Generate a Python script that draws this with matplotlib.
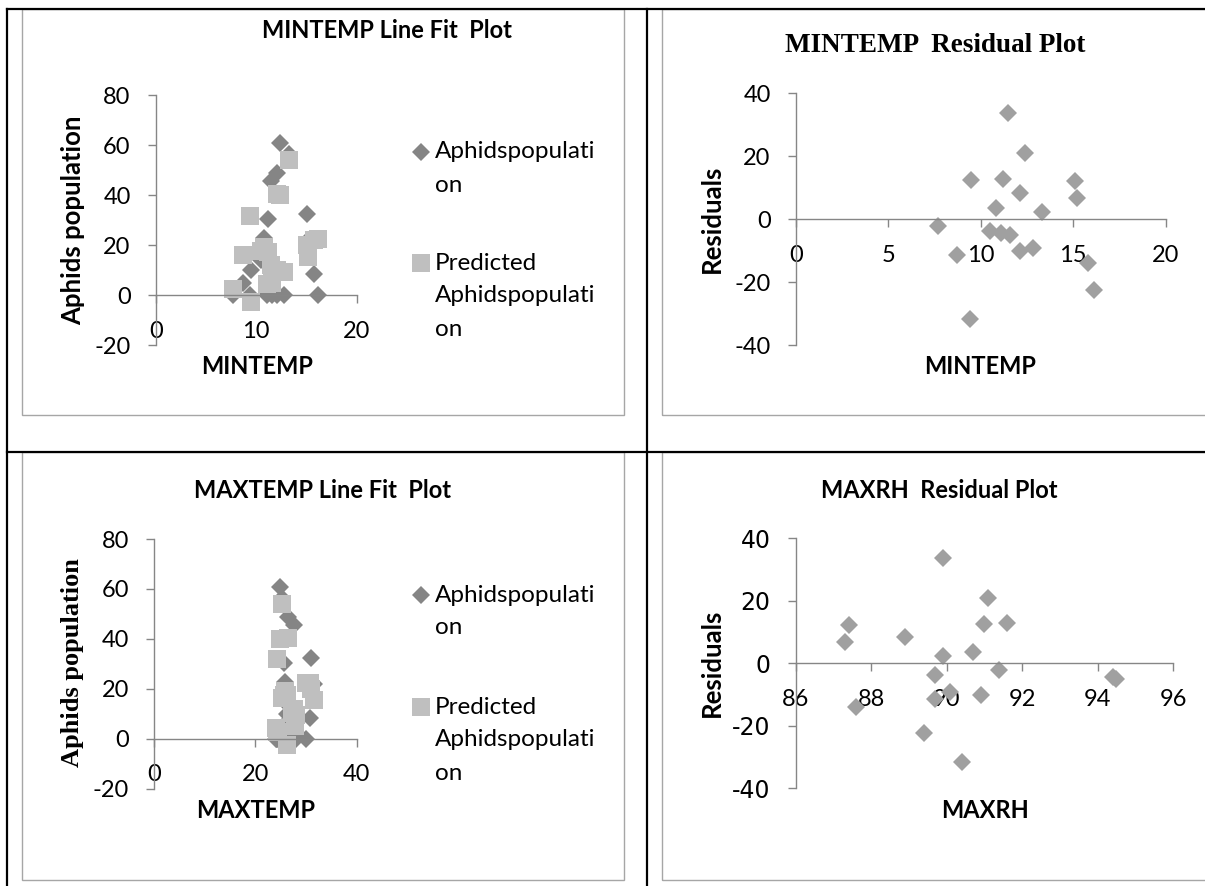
import matplotlib
matplotlib.use("Agg")
import matplotlib.pyplot as plt
from matplotlib.lines import Line2D
from matplotlib.patches import Rectangle

mintemp = [7.7, 8.7, 9.4, 9.5, 10.5, 10.8, 11.1, 11.2, 11.5, 11.6,
           12.1, 12.1, 12.4, 12.8, 13.3, 15.1, 15.2, 15.8, 16.1]
maxtemp = [24.2, 25.2, 24.3, 26.2, 26.2, 25.9, 24.0, 25.6, 27.6, 27.8,
           26.4, 27.2, 24.8, 28.0, 25.3, 30.9, 31.6, 30.8, 30.0]
maxrh = [91.4, 89.7, 90.4, 91.0, 89.7, 90.7, 94.4, 91.6, 89.9, 94.5,
         88.9, 90.9, 91.1, 90.1, 89.9, 87.4, 87.3, 87.6, 89.4]
aphids = [0, 4.7, 0, 10, 14, 22.7, 0, 30.3, 45.6, 0,
          48.7, 0, 60.9, 0, 56.4, 32.3, 22, 8.3, 0]
predicted = [2.5, 16.2, 31.8, -2.7, 17.7, 19.1, 4.3, 17.4, 12.0, 4.9,
             40.3, 10.1, 40.0, 9.3, 54.0, 20.1, 15.3, 22.2, 22.4]
residuals = [-2.2, -11.5, -31.7, 12.6, -3.7, 3.6, -4.3, 12.9, 33.6, -4.9,
             8.4, -10.1, 20.9, -9.3, 2.3, 12.2, 6.7, -13.9, -22.4]

# ── Style ─────────────────────────────────────────────────────────────────────
W, H = 1205, 886
SANS = "Lato"
SERIF = "Liberation Serif"
AXIS = "#868686"
FRAME = "#a6a6a6"
ACTUAL_C = "#858585"
PRED_C = "#bfbfbf"
RESID_C = "#a0a0a0"
TICK_FS = 17
LAB_FS = 17

plt.rcParams["axes.unicode_minus"] = False

fig = plt.figure(figsize=(W / 100, H / 100), dpi=100)


def fx(px):
    return px / W


def fy(py):
    return 1 - py / H


def make_axes(left, top, right, bottom, xlim, ylim, xticks, yticks):
    ax = fig.add_axes([fx(left), fy(bottom), (right - left) / W, (bottom - top) / H])
    ax.set_xlim(xlim)
    ax.set_ylim(ylim)
    ax.set_xticks(xticks)
    ax.set_yticks(yticks)
    ax.spines["top"].set_visible(False)
    ax.spines["right"].set_visible(False)
    ax.spines["bottom"].set_position(("data", 0))
    for s in ("left", "bottom"):
        ax.spines[s].set_color(AXIS)
        ax.spines[s].set_linewidth(1)
    ax.tick_params(color=AXIS, length=5.5, width=1, direction="out",
                   labelsize=TICK_FS, labelcolor="black")
    ax.tick_params(axis="x", pad=13)
    ax.tick_params(axis="y", pad=12.5)
    for lab in ax.get_xticklabels() + ax.get_yticklabels():
        lab.set_family(SANS)
    ax.patch.set_visible(False)
    return ax


def label(px, py, s, size, family=SANS, rot=0, weight="bold"):
    fig.text(fx(px), fy(py), s, ha="center", va="center", fontsize=size,
             family=family, weight=weight, rotation=rot)


def legend_key(px, py, marker, ms, color):
    fig.add_artist(Line2D([fx(px)], [fy(py)], marker=marker, ms=ms, color=color,
                          mew=0, linestyle="none", transform=fig.transFigure))


def legend_text(px, py, lines, step=33):
    for i, s in enumerate(lines):
        fig.text(fx(px), fy(py + i * step), s, ha="left", va="center",
                 fontsize=17.5, family=SANS)


# ── Table borders and chart frames ───────────────────────────────────────────
for (x0, y0, x1, y1) in [(22, 9, 624, 415), (662, 9, 1215, 415),
                         (22, 452, 624, 880), (662, 452, 1215, 880)]:
    fig.add_artist(Rectangle((fx(x0), fy(y1)), (x1 - x0) / W, (y1 - y0) / H,
                             transform=fig.transFigure, fill=False, ec=FRAME, lw=1))
for (xa, ya, xb, yb) in [(7, 9, 1205, 9), (7, 452, 1205, 452),
                         (7, 9, 7, 886), (647, 9, 647, 886)]:
    fig.add_artist(Line2D([fx(xa), fx(xb)], [fy(ya), fy(yb)], color="black",
                          lw=1.6, transform=fig.transFigure))

# ── Top-left: MINTEMP line fit ───────────────────────────────────────────────
ax1 = make_axes(155.7, 95, 356.7, 345, (0, 20), (-20, 80), [0, 10, 20], range(-20, 81, 20))
ax1.plot(mintemp, aphids, "D", ms=9.5, color=ACTUAL_C, mew=0, clip_on=False)
ax1.plot(mintemp, predicted, "s", ms=12.5, color=PRED_C, mew=0, clip_on=False)
label(387, 31, "MINTEMP Line Fit  Plot", 17)
label(73, 220, "Aphids population", 18.5, rot=90)
label(257, 367, "MINTEMP", LAB_FS)
legend_key(421, 152, "D", 9.5, ACTUAL_C)
legend_text(435, 152, ["Aphidspopulati", "on"])
legend_key(421, 263, "s", 12.5, PRED_C)
legend_text(435, 263, ["Predicted", "Aphidspopulati", "on"])

# ── Top-right: MINTEMP residuals ─────────────────────────────────────────────
ax2 = make_axes(795.7, 93.3, 1165.7, 345, (0, 20), (-40, 40), range(0, 21, 5), range(-40, 41, 20))
ax2.plot(mintemp, residuals, "D", ms=9, color=RESID_C, mew=0, clip_on=False)
label(935, 46, "MINTEMP  Residual Plot", 19.5, family=SERIF)
label(712, 219, "Residuals", 18.5, rot=90)
label(980, 367, "MINTEMP", LAB_FS)

# ── Bottom-left: MAXTEMP line fit ────────────────────────────────────────────
ax3 = make_axes(154, 539, 356.7, 788.6, (0, 40), (-20, 80), [0, 20, 40], range(-20, 81, 20))
ax3.plot(maxtemp, aphids, "D", ms=9.5, color=ACTUAL_C, mew=0, clip_on=False)
ax3.plot(maxtemp, predicted, "s", ms=12.5, color=PRED_C, mew=0, clip_on=False)
label(323, 490, "MAXTEMP Line Fit  Plot", 17)
label(73, 663, "Aphids population", 19, family=SERIF, rot=90)
label(256, 810, "MAXTEMP", LAB_FS)
legend_key(421, 595, "D", 9.5, ACTUAL_C)
legend_text(435, 595, ["Aphidspopulati", "on"])
legend_key(421, 707, "s", 12.5, PRED_C)
legend_text(435, 707, ["Predicted", "Aphidspopulati", "on"])

# ── Bottom-right: MAXRH residuals ────────────────────────────────────────────
ax4 = make_axes(795.7, 538.3, 1173, 788.3, (86, 96), (-40, 40), range(86, 97, 2), range(-40, 41, 20))
ax4.spines["left"].set_position(("data", 86))
ax4.plot(maxrh, residuals, "D", ms=9, color=RESID_C, mew=0, clip_on=False)
label(939, 490, "MAXRH  Residual Plot", 17)
label(712, 663, "Residuals", 18.5, rot=90)
label(985, 810, "MAXRH", LAB_FS)

fig.savefig("out.png", dpi=100)
